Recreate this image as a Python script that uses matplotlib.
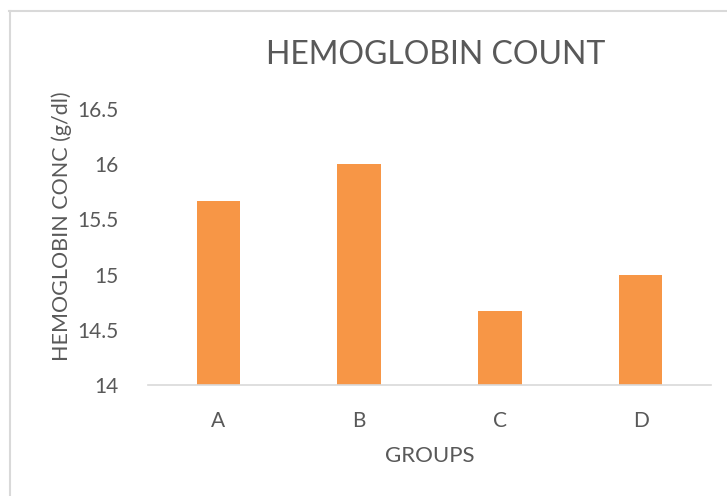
import matplotlib
matplotlib.use("Agg")
import matplotlib.pyplot as plt
from matplotlib.lines import Line2D

groups = ['A', 'B', 'C', 'D']
hb_conc = [15.67, 16.0, 14.67, 15.0]
y_ticks = [14, 14.5, 15, 15.5, 16, 16.5]
y_tick_labels = ['14', '14.5', '15', '15.5', '16', '16.5']

plt.rcParams['font.family'] = ['Lato', 'DejaVu Sans']
text_color = '#595959'
line_color = '#d9d9d9'

W, H = 727, 496
fig = plt.figure(figsize=(W / 100, H / 100), dpi=100)
ax = fig.add_axes([148 / W, 1 - 385 / H, (711 - 148) / W, (385 - 109) / H])

x = range(len(groups))
ax.bar(x, [v - 14 for v in hb_conc], width=0.31, bottom=14, color='#F79646')

ax.set_xlim(-0.5, len(groups) - 0.5)
ax.set_ylim(14, 16.5)
ax.set_yticks(y_ticks)
ax.set_yticklabels(y_tick_labels)
ax.set_xticks(list(x))
ax.set_xticklabels(groups)
ax.tick_params(axis='y', length=0, pad=21, labelsize=15, labelcolor=text_color)
ax.tick_params(axis='x', length=0, pad=19, labelsize=15, labelcolor=text_color)

for side in ['top', 'right', 'left']:
    ax.spines[side].set_visible(False)
ax.spines['bottom'].set_color(line_color)
ax.spines['bottom'].set_linewidth(1.2)

fig.text(436 / W, 1 - 55 / H, 'HEMOGLOBIN COUNT', ha='center', va='center',
         fontsize=23, color=text_color)
fig.text(62 / W, 1 - 226 / H, 'HEMOGLOBIN CONC (g/dl)', ha='center', va='center',
         rotation=90, fontsize=15.5, color=text_color)
fig.text(430 / W, 1 - 456 / H, 'GROUPS', ha='center', va='center',
         fontsize=16, color=text_color)

# chart frame (top and left edges visible)
fig.add_artist(Line2D([9 / W, 1], [1 - 11 / H, 1 - 11 / H], color=line_color, lw=1.5,
                      transform=fig.transFigure))
fig.add_artist(Line2D([9.5 / W, 9.5 / W], [0, 1 - 11 / H], color=line_color, lw=1.5,
                      transform=fig.transFigure))

fig.savefig('out.png', dpi=100)
